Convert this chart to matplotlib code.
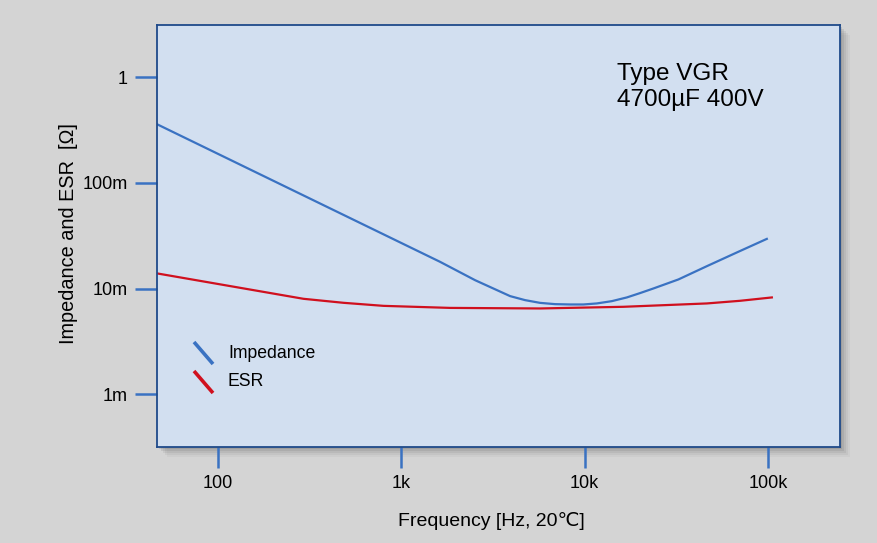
import matplotlib
matplotlib.use("Agg")
import matplotlib.pyplot as plt
from matplotlib.patches import Rectangle

plt.rcParams['font.family'] = ['Liberation Sans', 'DejaVu Sans']

# Data
imp_freq = [46.5, 1626, 2524, 3918, 4729, 5710, 6895, 8323, 9840, 11640, 14050,
            16970, 20000, 23700, 32450, 46370, 67560, 98500]
imp_vals = [0.359, 0.0179, 0.0120, 0.00848, 0.00777, 0.00732, 0.00712, 0.00707, 0.00707,
            0.00723, 0.00760, 0.00824, 0.00905, 0.01002, 0.0122, 0.01629, 0.02196, 0.02953]
esr_freq = [46.6, 292, 483, 798, 1844, 5710, 16260, 46370, 70440, 104900]
esr_vals = [0.0139, 0.0080, 0.00733, 0.00686, 0.00656, 0.00648, 0.00672, 0.00723, 0.00766, 0.00824]

x_ticks = [100, 1000, 10000, 100000]
x_labels = ['100', '1k', '10k', '100k']
y_ticks = [1, 0.1, 0.01, 0.001]
y_labels = ['1', '100m', '10m', '1m']

W, H = 878, 543
fig = plt.figure(figsize=(W / 100, H / 100), dpi=100)
fig.patch.set_facecolor('#d4d4d4')

left, right, top, bottom = 157, 840, 24.5, 447
ax = fig.add_axes([left / W, 1 - bottom / H, (right - left) / W, (bottom - top) / H])
ax.set_facecolor('#d2dff0')
ax.set_zorder(2)

# shadow
for off, a in [(10, 0.05), (8, 0.07), (6, 0.09), (4, 0.12), (2, 0.15)]:
    fig.patches.append(Rectangle(((left + off) / W, 1 - (bottom + off) / H),
                                 (right - left) / W, (bottom - top) / H,
                                 transform=fig.transFigure, facecolor='#505050',
                                 edgecolor='none', alpha=a, zorder=-1))

ax.set_xscale('log')
ax.set_yscale('log')
ax.set_xlim(46.4, 247000)
ax.set_ylim(10 ** -3.5, 10 ** 0.5)

blue = '#3a72c2'
red = '#d0101e'
ax.plot(imp_freq, imp_vals, color=blue, lw=1.6, solid_joinstyle='round')
ax.plot(esr_freq, esr_vals, color=red, lw=1.6, solid_joinstyle='round')

ax.set_xticks(x_ticks)
ax.set_xticklabels(x_labels)
ax.set_yticks(y_ticks)
ax.set_yticklabels(y_labels)
ax.minorticks_off()
ax.tick_params(axis='both', direction='out', color='#3a72c2', width=1.8,
               labelsize=13, labelcolor='black')
ax.tick_params(axis='y', length=16, pad=5)
ax.tick_params(axis='x', length=15, pad=5)

for s in ax.spines.values():
    s.set_color('#1f4a8a')
    s.set_linewidth(1.3)

ax.set_xlabel('Frequency [Hz, 20\u2103]', fontsize=14)
ax.set_ylabel('Impedance and ESR  [\u03a9]', fontsize=14.3)
ax.xaxis.set_label_coords((491.5 - left) / (right - left), (bottom - 512) / (bottom - top))
ax.yaxis.set_label_coords((78 - left) / (right - left), (bottom - 234) / (bottom - top))

# legend
def ax_xy(px, py):
    return ((px - left) / (right - left), (bottom - py) / (bottom - top))

for (y0, c, lab) in [(342, blue, 'Impedance'), (371, red, 'ESR')]:
    p0 = ax_xy(194, y0)
    p1 = ax_xy(213, y0 + 22)
    ax.plot([p0[0], p1[0]], [p0[1], p1[1]], color=c, lw=2.6, transform=ax.transAxes,
            solid_capstyle='butt')
    tx, ty = ax_xy(228, y0 + 11)
    ax.text(tx, ty, lab, transform=ax.transAxes, fontsize=12.7, va='center', ha='left')

tx, ty = ax_xy(617, 87)
ax.text(tx, ty, 'Type VGR\n4700\u00b5F 400V', transform=ax.transAxes, fontsize=17.5,
        va='center', ha='left', linespacing=1.2)

fig.savefig('out.png', dpi=100, facecolor=fig.get_facecolor())
